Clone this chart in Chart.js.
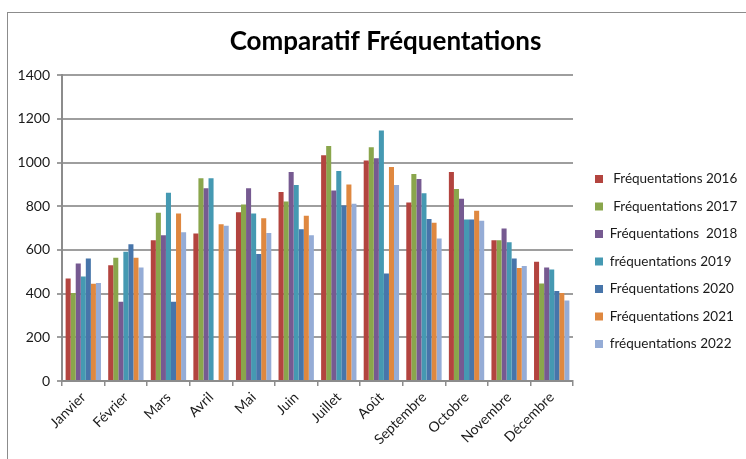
<!DOCTYPE html>
<html>
<head>
<meta charset="utf-8">
<script src="https://cdn.jsdelivr.net/npm/chart.js@4"></script>
<style>
    html, body { margin: 0; padding: 0; background: #fff; overflow: hidden; }
    #frame {
        position: absolute; left: 7px; top: 12px; width: 800px; height: 500px;
        border: 1px solid #8c8c8c;
    }
    #wrap { position: absolute; left: 0; top: 0; width: 746px; height: 459px; }
</style>
</head>
<body>
<div id="frame"></div>
<div id="wrap"><canvas id="frequentations"></canvas></div>
<script>
const months = ['Janvier', 'Février', 'Mars', 'Avril', 'Mai', 'Juin', 'Juillet',
    'Août', 'Septembre', 'Octobre', 'Novembre', 'Décembre'];

const freq2016 = [469, 530, 644, 675, 773, 865, 1033, 1009, 817, 957, 644, 546];
const freq2017 = [403, 564, 770, 928, 808, 822, 1076, 1070, 948, 879, 644, 446];
const freq2018 = [538, 363, 667, 882, 883, 957, 872, 1020, 925, 834, 698, 520];
const freq2019 = [478, 592, 862, 928, 767, 897, 961, 1147, 859, 739, 635, 511];
const freq2020 = [561, 626, 363, 0, 581, 695, 803, 492, 742, 739, 561, 412];
const freq2021 = [445, 564, 767, 718, 745, 757, 900, 980, 725, 780, 517, 403];
const freq2022 = [449, 520, 681, 711, 678, 667, 811, 897, 652, 734, 527, 368];

const seriesLabels = [' Fréquentations 2016', ' Fréquentations 2017', 'Fréquentations  2018',
    'fréquentations 2019', 'Fréquentations 2020', 'Fréquentations 2021', 'fréquentations 2022'];
const seriesValues = [freq2016, freq2017, freq2018, freq2019, freq2020, freq2021, freq2022];
const seriesColors = ['#b3443f', '#8aa64c', '#765a91', '#4599b2', '#4775aa', '#df8840', '#95acd6'];

const yTicks = [0, 200, 400, 600, 800, 1000, 1200, 1400];

const FONT = 'Lato, "Open Sans", sans-serif';

// legend column: fixed width, set a little away from the plot and lower
const legendWidth = 173;
const legendGap = 8;
const legendDrop = 19;
const titleShift = 5.5;

function buildDatasets() {
    return seriesLabels.map(function (label, i) {
        return {
            label: label,
            data: seriesValues[i],
            backgroundColor: seriesColors[i],
            borderWidth: 0,
            barPercentage: 1.0,
            categoryPercentage: 0.83,
        };
    });
}

const nudge = {
    id: 'nudge',
    beforeInit: function (chart) {
        const origFit = chart.legend.fit;
        chart.legend.fit = function () {
            origFit.call(chart.legend);
            this.width = legendWidth;
        };
    },
    afterLayout: function (chart) {
        chart.legend.left += legendGap;
        chart.legend.top += legendDrop;
        chart.legend.bottom += legendDrop;
        chart.titleBlock.left += titleShift;
        chart.titleBlock.right += titleShift;
    },
};

new Chart(document.getElementById('frequentations'), {
    type: 'bar',
    data: {
        labels: months,
        datasets: buildDatasets(),
    },
    plugins: [nudge],
    options: {
        responsive: true,
        maintainAspectRatio: false,
        animation: false,
        layout: {
            padding: { left: 14, right: 0, top: 26, bottom: 0 }
        },
        scales: {
            x: {
                afterFit: function (axis) { axis.height = 78; },
                grid: {
                    display: true,
                    drawOnChartArea: false,
                    drawTicks: true,
                    tickLength: 5,
                    color: '#8c8c8c',
                    lineWidth: 1.5,
                    offset: true,
                },
                border: { display: true, color: '#8c8c8c', width: 2 },
                ticks: {
                    minRotation: 45,
                    maxRotation: 45,
                    autoSkip: false,
                    color: '#1a1a1a',
                    padding: 3,
                    font: { family: FONT, size: 14 },
                },
            },
            y: {
                min: 0,
                max: 1400,
                afterFit: function (axis) { axis.width = 48; },
                afterBuildTicks: function (axis) {
                    axis.ticks = yTicks.map(function (v) { return { value: v }; });
                },
                grid: {
                    color: '#9e9e9e',
                    lineWidth: 2,
                    drawTicks: true,
                    tickLength: 5,
                },
                border: { display: true, color: '#8c8c8c', width: 2 },
                ticks: {
                    color: '#1a1a1a',
                    padding: 7,
                    font: { family: FONT, size: 14 },
                    callback: function (v) { return String(v); },
                },
            },
        },
        plugins: {
            title: {
                display: true,
                text: 'Comparatif Fréquentations',
                color: '#000',
                font: { family: FONT, size: 26, weight: 'bold' },
                padding: { top: 0, bottom: 18 },
            },
            legend: {
                position: 'right',
                labels: {
                    boxWidth: 8,
                    boxHeight: 8,
                    padding: 14,
                    color: '#1a1a1a',
                    font: { family: FONT, size: 13.5 },
                },
            },
            tooltip: { enabled: false },
        },
    },
});
</script>
</body>
</html>
